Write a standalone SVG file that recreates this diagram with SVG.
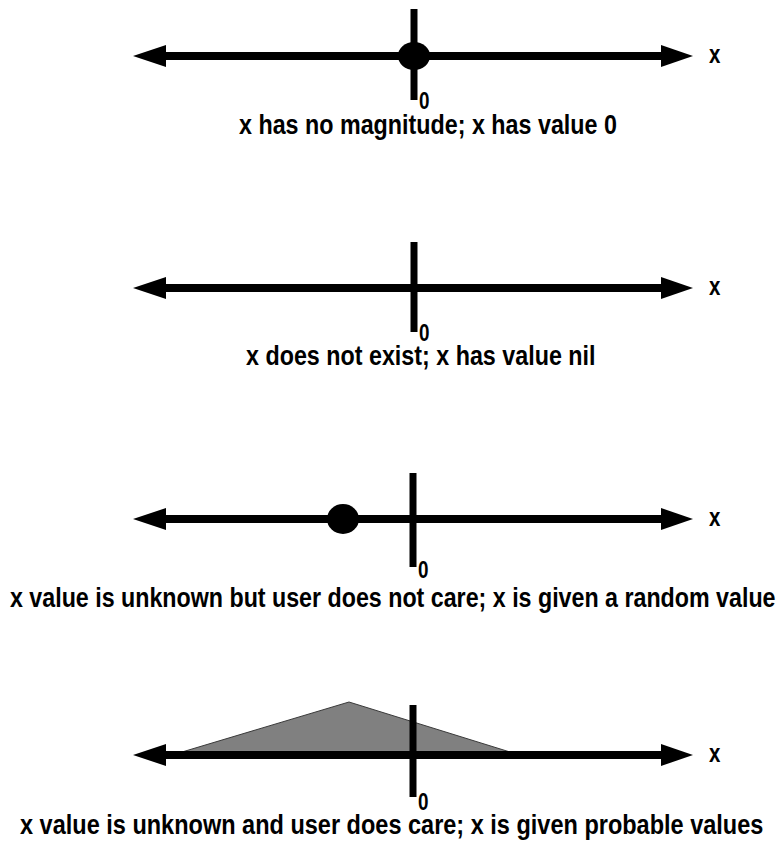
<svg xmlns="http://www.w3.org/2000/svg" xmlns:xlink="http://www.w3.org/1999/xlink" width="784" height="844" viewBox="0 0 784 844">
  <style>
    .axis { stroke: #000; stroke-width: 8; fill: none; }
    .tick { stroke: #000; stroke-width: 7; fill: none; }
    .head { fill: #000; }
    .dot { fill: #000; }
    .txt { font-family: "Liberation Sans", Arial, Helvetica, sans-serif; font-weight: bold; fill: #000; }
    .cap { font-size: 28px; }
    .zero { font-size: 23px; }
    .xl { font-size: 25px; }
    .tri { fill: #808080; stroke: #3a3a3a; stroke-width: 1; }
  </style>
  <defs>
    <g id="axisline">
      <line class="axis" x1="160" y1="0" x2="668" y2="0"/>
      <polygon class="head" points="133,0 166,-11 166,11"/>
      <polygon class="head" points="693,0 661,-11 661,11"/>
    </g>
  </defs>
  <rect width="784" height="844" fill="#fff"/>

  <g id="panel1">
    <use xlink:href="#axisline" href="#axisline" transform="translate(0,56)"/>
    <line class="tick" x1="414" y1="9" x2="414" y2="100"/>
    <ellipse class="dot" cx="414" cy="56" rx="16" ry="14"/>
    <text class="txt xl" transform="translate(709,63) scale(0.82,1)">x</text>
    <text class="txt zero" transform="translate(419,109) scale(0.82,1)">0</text>
    <text class="txt cap" transform="translate(239,134) scale(0.832,1)">x has no magnitude; x has value 0</text>
  </g>

  <g id="panel2">
    <use xlink:href="#axisline" href="#axisline" transform="translate(0,288)"/>
    <line class="tick" x1="414" y1="242" x2="414" y2="332"/>
    <text class="txt xl" transform="translate(709,295) scale(0.82,1)">x</text>
    <text class="txt zero" transform="translate(419,341) scale(0.82,1)">0</text>
    <text class="txt cap" transform="translate(246,365) scale(0.832,1)">x does not exist; x has value nil</text>
  </g>

  <g id="panel3">
    <use xlink:href="#axisline" href="#axisline" transform="translate(0,519)"/>
    <line class="tick" x1="413" y1="473" x2="413" y2="567"/>
    <ellipse class="dot" cx="343" cy="519" rx="16" ry="15"/>
    <text class="txt xl" transform="translate(709,526) scale(0.82,1)">x</text>
    <text class="txt zero" transform="translate(418,578) scale(0.82,1)">0</text>
    <text class="txt cap" transform="translate(10,607) scale(0.83,1)">x value is unknown but user does not care; x is given a random value</text>
  </g>

  <g id="panel4">
    <polygon class="tri" points="182,752 349,702 510,752"/>
    <use xlink:href="#axisline" href="#axisline" transform="translate(0,755)"/>
    <line class="tick" x1="413" y1="705" x2="413" y2="797"/>
    <text class="txt xl" transform="translate(709,762) scale(0.82,1)">x</text>
    <text class="txt zero" transform="translate(418,810) scale(0.82,1)">0</text>
    <text class="txt cap" transform="translate(20,834) scale(0.84,1)">x value is unknown and user does care; x is given probable values</text>
  </g>
</svg>
